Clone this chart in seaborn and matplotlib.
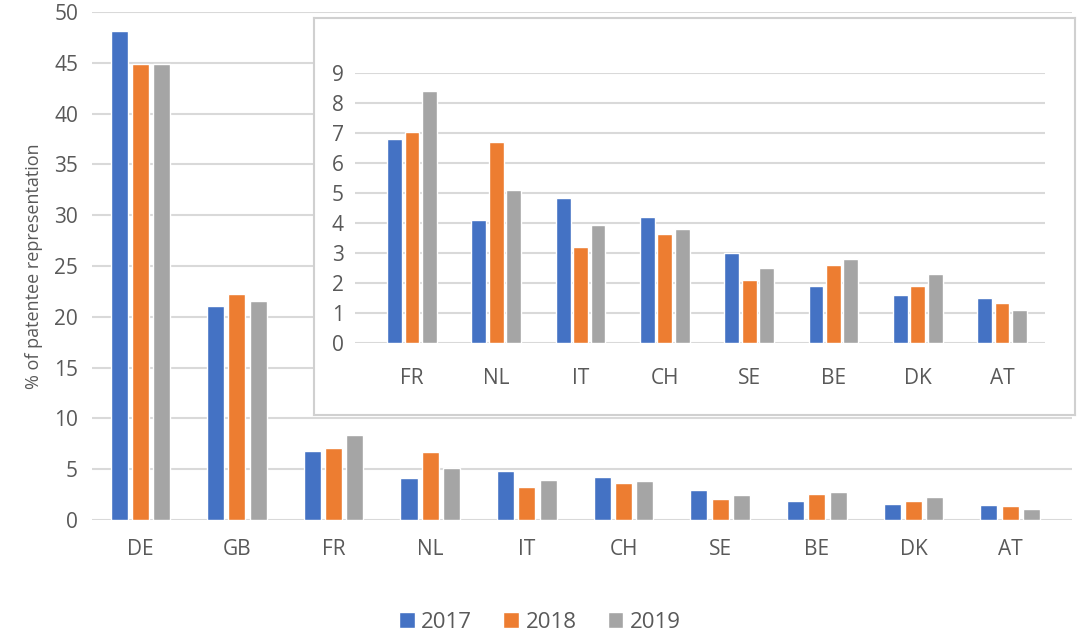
import matplotlib
matplotlib.use("Agg")
import matplotlib.pyplot as plt
import seaborn as sns
import pandas as pd

countries = ["DE", "GB", "FR", "NL", "IT", "CH", "SE", "BE", "DK", "AT"]
years = ["2017", "2018", "2019"]
v2017 = [48.1, 21.1, 6.8, 4.1, 4.85, 4.2, 3.0, 1.9, 1.6, 1.5]
v2018 = [44.9, 22.2, 7.05, 6.7, 3.2, 3.65, 2.1, 2.6, 1.9, 1.35]
v2019 = [44.9, 21.6, 8.4, 5.1, 3.95, 3.8, 2.5, 2.8, 2.3, 1.1]
inset_countries = countries[2:]

colors = ["#4472C4", "#ED7D31", "#A5A5A5"]
txt = "#595959"
grid = "#D9D9D9"

rows = []
for i, c in enumerate(countries):
    for y, vals in zip(years, [v2017, v2018, v2019]):
        rows.append({"country": c, "year": y, "value": vals[i]})
df = pd.DataFrame(rows)
df_in = df[df["country"].isin(inset_countries)]

sns.set_theme(style="white")
plt.rcParams["font.family"] = ["Open Sans", "DejaVu Sans"]

fig = plt.figure(figsize=(10.8, 6.37), dpi=100)
W, H = 1080, 637

def ax_at(l, t, r, b):
    return fig.add_axes([l / W, 1 - b / H, (r - l) / W, (b - t) / H])

ax = ax_at(92, 12, 1072, 520)
sns.barplot(data=df, x="country", y="value", hue="year", order=countries,
            hue_order=years, palette=colors, width=0.66, gap=0.2,
            saturation=1, ax=ax, legend=True)
ax.set_xlim(-0.5, 9.64)
ax.set_ylim(0, 50)
ax.set_yticks(range(0, 51, 5))
ax.yaxis.grid(True, color=grid, linewidth=1.5)
ax.set_axisbelow(True)
for s in ax.spines.values():
    s.set_visible(False)
ax.tick_params(axis="both", length=0, colors=txt, labelsize=15)
ax.tick_params(axis="x", pad=14)
ax.tick_params(axis="y", pad=10)
ax.set_xlabel("")
ax.set_ylabel("% of patentee representation", color=txt, fontsize=13, labelpad=8)

h, l = ax.get_legend_handles_labels()
ax.get_legend().remove()
fig.legend(h, l, loc="center", bbox_to_anchor=(0.5, 1 - 622 / H), ncol=3,
           frameon=False, fontsize=16, labelcolor=txt, handlelength=0.7,
           handleheight=0.7, handletextpad=0.3, columnspacing=1.4)

# inset frame
bg = ax_at(314, 18, 1075, 415)
bg.set_xticks([])
bg.set_yticks([])
bg.set_facecolor("white")
for s in bg.spines.values():
    s.set_color("#D0D0D0")
    s.set_linewidth(1.5)

ins = ax_at(355, 73, 1045, 343)
sns.barplot(data=df_in, x="country", y="value", hue="year", order=inset_countries,
            hue_order=years, palette=colors, width=0.62, gap=0.15,
            saturation=1, ax=ins, legend=False)
ins.set_xlim(-0.676, 7.51)
ins.set_ylim(0, 9)
ins.set_yticks(range(0, 10))
ins.yaxis.grid(True, color=grid, linewidth=1.5)
ins.set_axisbelow(True)
ins.patch.set_alpha(0)
for s in ins.spines.values():
    s.set_visible(False)
ins.tick_params(axis="both", length=0, colors=txt, labelsize=15)
ins.tick_params(axis="x", pad=18)
ins.tick_params(axis="y", pad=8)
ins.set_xlabel("")
ins.set_ylabel("")

fig.savefig("out.png", dpi=100, facecolor="white")
